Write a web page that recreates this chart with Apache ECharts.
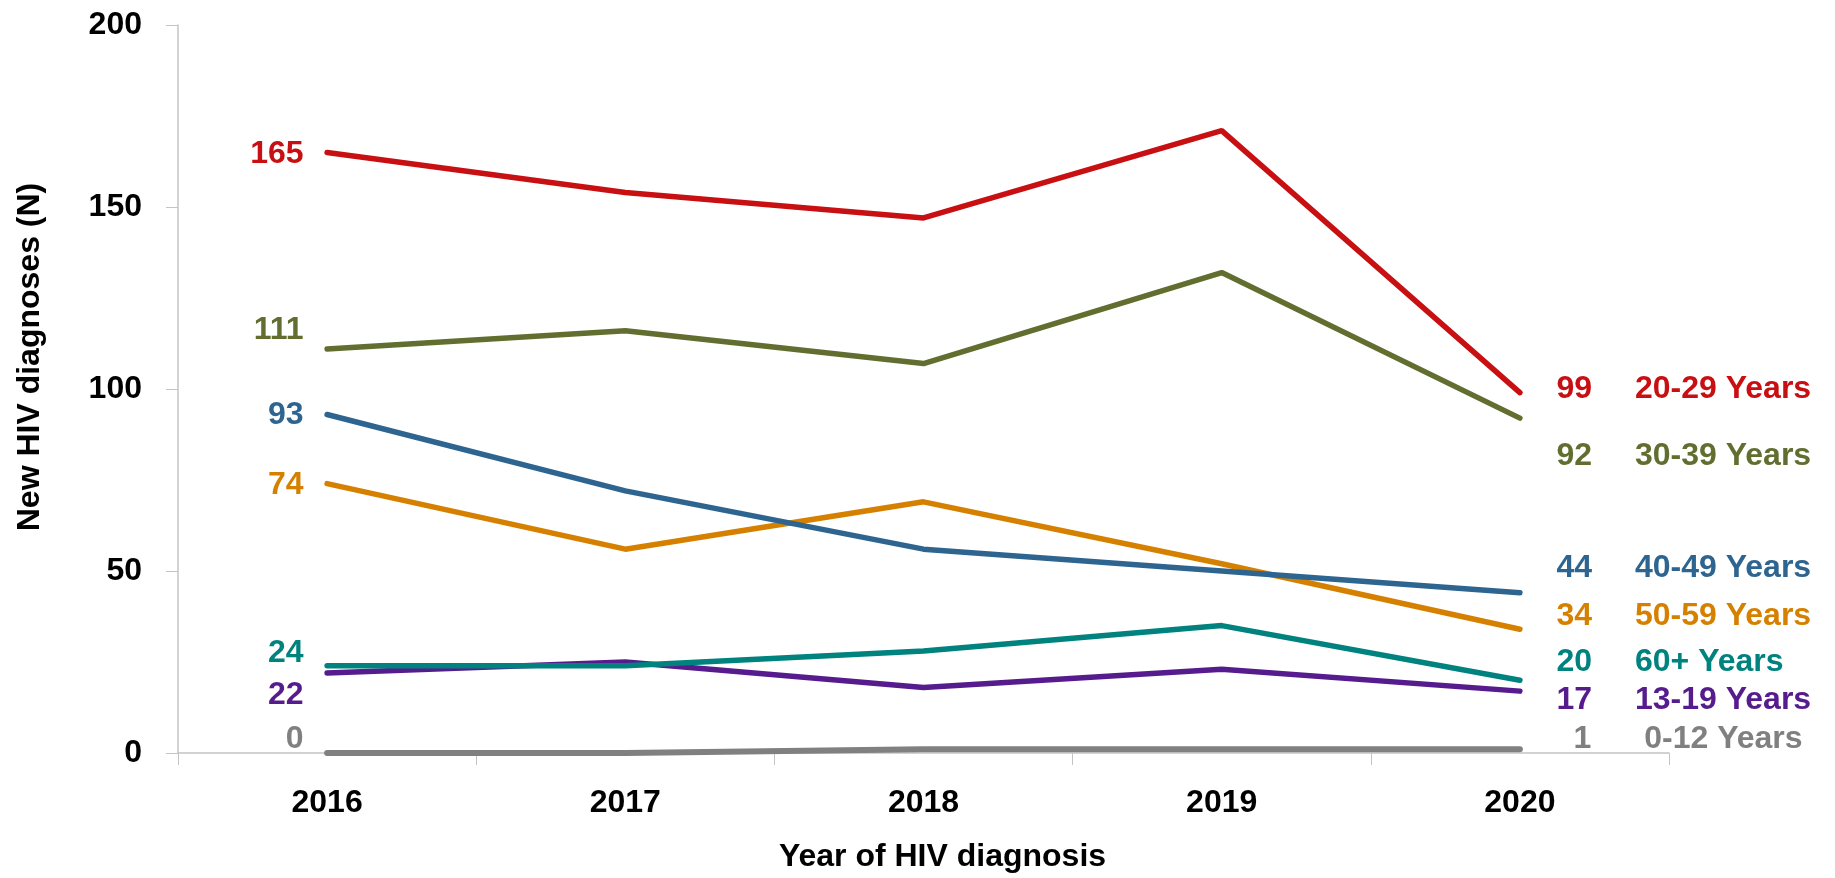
<!DOCTYPE html>
<html>
<head>
<meta charset="utf-8">
<script src="https://cdn.jsdelivr.net/npm/echarts@6/dist/echarts.min.js"></script>
<style>
  html, body { margin: 0; padding: 0; background: #fff; }
  #chart { width: 1835px; height: 878px; }
</style>
</head>
<body>
<div id="chart"></div>
<script>
// ---- data ----
const years = ['2016', '2017', '2018', '2019', '2020'];
const ageGroups = ['20-29 Years', '30-39 Years', '40-49 Years', '50-59 Years', '60+ Years', '13-19 Years', '0-12 Years'];
const age20_29 = [165, 154, 147, 171, 99];
const age30_39 = [111, 116, 107, 132, 92];
const age40_49 = [93, 72, 56, 50, 44];
const age50_59 = [74, 56, 69, 52, 34];
const age60plus = [24, 24, 28, 35, 20];
const age13_19 = [22, 25, 18, 23, 17];
const age0_12 = [0, 0, 1, 1, 1];
const yMin = 0, yMax = 200, yStep = 50;
const xTitle = 'Year of HIV diagnosis';
const yTitle = 'New HIV diagnoses (N)';

// ---- styles ----
const seriesValues = [age20_29, age30_39, age40_49, age50_59, age60plus, age13_19, age0_12];
const colors = ['#C80F12', '#626E30', '#2E6590', '#D68000', '#00827F', '#561C8D', '#808080'];
const leftDy = [2, -19, 1, 2, -12, 22, -14];
const rightDy = [-3, 38, -25, -13, -18, 9, -10];
const rightDist = [36, 36, 36, 36, 36, 36, 53];
const spacer = [43, 43, 43, 43, 43, 43, 53];
const FONT = '"Liberation Sans", Arial, sans-serif';
const FS = 32;

const series = seriesValues.map((vals, si) => {
  const c = colors[si];
  const data = vals.map((v, i) => {
    if (i === 0) {
      return {
        value: v,
        label: {
          show: true, position: 'left', distance: 23, offset: [0, leftDy[si]],
          color: c, fontFamily: FONT, fontWeight: 'bold', fontSize: FS,
          formatter: '{c}'
        }
      };
    }
    if (i === vals.length - 1) {
      return {
        value: v,
        label: {
          show: true, position: 'right', distance: rightDist[si], offset: [0, rightDy[si]],
          formatter: '{v|' + v + '}{s|}{n|' + ageGroups[si] + '}',
          rich: {
            v: { color: c, fontFamily: FONT, fontWeight: 'bold', fontSize: FS },
            s: { width: spacer[si] },
            n: { color: c, fontFamily: FONT, fontWeight: 'bold', fontSize: FS }
          }
        }
      };
    }
    return { value: v, label: { show: false } };
  });
  return {
    name: ageGroups[si],
    type: 'line',
    data: data,
    symbol: 'circle',
    symbolSize: 1,
    showSymbol: true,
    itemStyle: { color: c },
    lineStyle: { color: c, width: si === 6 ? 6 : 5.5, cap: 'round' },
    z: 10 - si,
    animation: false,
    emphasis: { disabled: true }
  };
});

const chart = echarts.init(document.getElementById('chart'));
chart.setOption({
  backgroundColor: '#ffffff',
  animation: false,
  grid: { left: 178, right: 166, top: 25, bottom: 123, containLabel: false },
  xAxis: {
    type: 'category',
    data: years,
    boundaryGap: true,
    axisLine: { show: true, lineStyle: { color: '#c4c4c4', width: 1.5 } },
    axisTick: { show: true, length: 12, inside: false, lineStyle: { color: '#c4c4c4', width: 1 } },
    axisLabel: { margin: 34, color: '#000', fontFamily: FONT, fontWeight: 'bold', fontSize: FS },
    name: xTitle,
    nameLocation: 'middle',
    nameGap: 88,
    nameTextStyle: { color: '#000', fontFamily: FONT, fontWeight: 'bold', fontSize: FS, padding: [0, 0, 0, 38] },
    splitLine: { show: false }
  },
  yAxis: {
    type: 'value',
    min: yMin, max: yMax, interval: yStep,
    axisLine: { show: true, lineStyle: { color: '#c4c4c4', width: 1.5 } },
    axisTick: { show: true, length: 12, inside: false, lineStyle: { color: '#c4c4c4', width: 1 } },
    axisLabel: { margin: 36, color: '#000', fontFamily: FONT, fontWeight: 'bold', fontSize: FS },
    splitLine: { show: false }
  },
  graphic: [{
    type: 'text',
    x: 30, y: 357,
    rotation: Math.PI / 2,
    style: {
      text: yTitle,
      fill: '#000',
      font: 'bold ' + FS + 'px ' + FONT,
      textAlign: 'center',
      textVerticalAlign: 'middle'
    }
  }],
  series: series
});
</script>
</body>
</html>
